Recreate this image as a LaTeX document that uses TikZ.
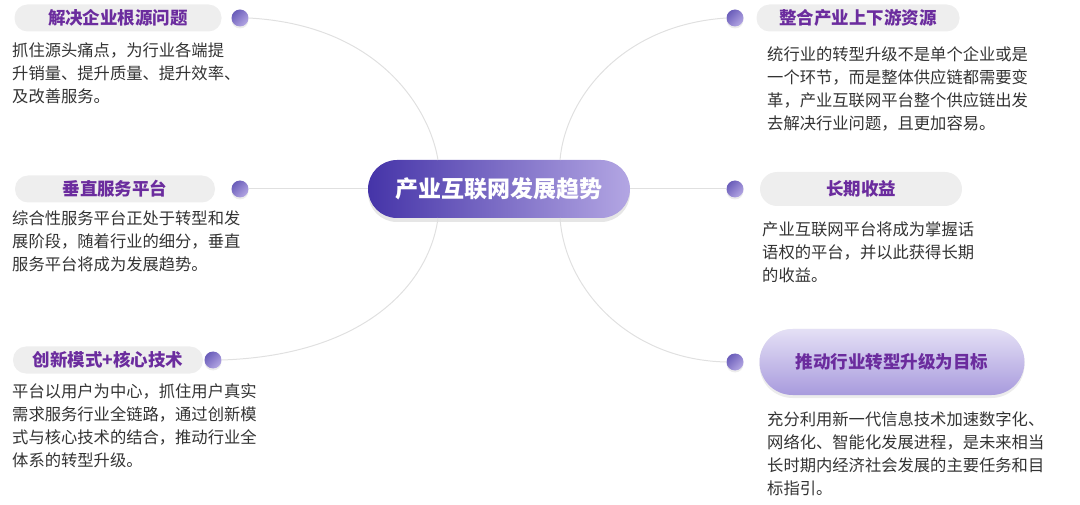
\documentclass[tikz,border=0pt]{standalone}
\usepackage{fontspec}
\setmainfont{Noto Sans CJK SC}
\usetikzlibrary{shadows,fadings}
\definecolor{tx}{HTML}{333333}
\definecolor{pt}{HTML}{6B2C9E}
\definecolor{pillg}{HTML}{EEEEEE}
\definecolor{dk}{HTML}{4534A8}
\definecolor{lt}{HTML}{B3A6E3}
\begin{document}
\begin{tikzpicture}[x=1pt,y=-1pt,
 pill/.style={rounded corners=13pt,fill=pillg,minimum height=27pt,font=\fontsize{17.5}{19}\selectfont\bfseries,text=pt},
 dot/.style={circle,minimum size=17pt,inner sep=0pt,left color=dk!80,right color=lt,shading angle=45,drop shadow={opacity=0.15,shadow xshift=0pt,shadow yshift=-2pt}},
 para/.style={anchor=north west,align=left,inner sep=0pt,text=tx,font=\fontsize{16.3}{23}\selectfont},
 con/.style={draw=black!12,line width=1pt}]
\useasboundingbox (0,0) rectangle (1080,505);
% center
\node[rounded corners=29pt,minimum width=262pt,minimum height=58pt,left color=dk,right color=lt,drop shadow={opacity=0.2,shadow xshift=0pt,shadow yshift=-4pt},text=white,font=\fontsize{23}{25}\selectfont\bfseries] (c) at (499,189) {产业互联网发展趋势};
% dots
\node[dot] (d1) at (240,18) {};
\node[dot] (d2) at (240,189) {};
\node[dot] (d3) at (213,360) {};
\node[dot] (d4) at (735,18) {};
\node[dot] (d5) at (735,189) {};
\node[dot] (d6) at (735,362) {};
% connectors
\coordinate (c1) at (438,160);
\coordinate (c3) at (438,218);
\coordinate (c4) at (560,160);
\coordinate (c6) at (560,218);
\draw[con] (d1.east) .. controls (380,25) and (430,110) .. (c1);
\draw[con] (d2.east) -- (c.west);
\draw[con] (d3.east) .. controls (370,355) and (430,280) .. (c3);
\draw[con] (d4.west) .. controls (620,25) and (565,100) .. (c4);
\draw[con] (c.east) -- (d5.west);
\draw[con] (d6.west) .. controls (630,360) and (565,290) .. (c6);
% pills
\node[pill,minimum width=207pt] (p1) at (118,18) {解决企业根源问题};
\node[pill,minimum width=200pt] (p2) at (115,189) {垂直服务平台};
\node[pill,minimum width=190pt] (p3) at (108,360) {创新模式+核心技术};
\node[pill,minimum width=203pt] (p4) at (858,18) {整合产业上下游资源};
\node[pill,minimum width=202pt,minimum height=34pt,rounded corners=17pt] (p5) at (861,189) {长期收益};
\node[pill,minimum width=265pt,minimum height=66pt,rounded corners=33pt,top color=lt!35,bottom color=lt!90!dk,drop shadow={opacity=0.15,shadow xshift=0pt,shadow yshift=-3pt}] (p6) at (892,362) {推动行业转型升级为目标};
% paragraphs
\node[para] (t1) at (12,42) {抓住源头痛点，为行业各端提\\升销量、提升质量、提升效率、\\及改善服务。};
\node[para] (t2) at (12,211) {综合性服务平台正处于转型和发\\展阶段，随着行业的细分，垂直\\服务平台将成为发展趋势。};
\node[para] (t3) at (12,383) {平台以用户为中心，抓住用户真实\\需求服务行业全链路，通过创新模\\式与核心技术的结合，推动行业全\\体系的转型升级。};
\node[para] (t4) at (767,46) {统行业的转型升级不是单个企业或是\\一个环节，而是整体供应链都需要变\\革，产业互联网平台整个供应链出发\\去解决行业问题，且更加容易。};
\node[para] (t5) at (762,222) {产业互联网平台将成为掌握话\\语权的平台，并以此获得长期\\的收益。};
\node[para] (t6) at (767,411) {充分利用新一代信息技术加速数字化、\\网络化、智能化发展进程，是未来相当\\长时期内经济社会发展的主要任务和目\\标指引。};
\end{tikzpicture}
\end{document}
